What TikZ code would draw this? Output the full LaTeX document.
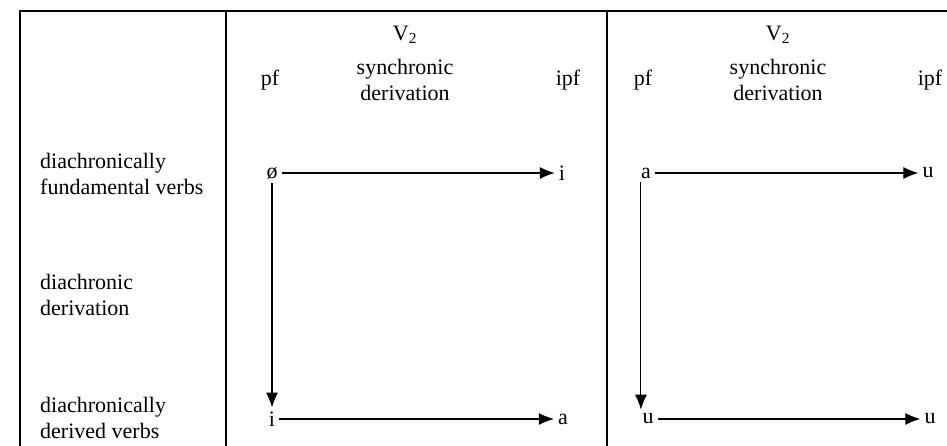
\documentclass[tikz,border=0pt]{standalone}
\usepackage{fontspec}
\setmainfont{Liberation Serif}
\usetikzlibrary{arrows.meta}
\begin{document}
\begin{tikzpicture}[x=1pt,y=1pt,
  txt/.style={font=\fontsize{22}{26}\selectfont, inner sep=0pt},
  rowlbl/.style={txt, anchor=west, align=left},
  hdr/.style={txt, align=center},
  sym/.style={txt, inner sep=4pt},
  rule/.style={line width=1.1pt},
  conn/.style={line width=1.1pt, -{Latex[length=15pt,width=12pt]}}]
\useasboundingbox (0,0) rectangle (947,446);
% table rules
\draw[rule] (20,0) -- (20,435) -- (947,435);
\draw[rule] (226,0) -- (226,435);
\draw[rule] (607,0) -- (607,435);
% row labels
\node[rowlbl] (r1) at (40,272) {diachronically\\fundamental verbs};
\node[rowlbl] (r2) at (40,151) {diachronic\\derivation};
\node[rowlbl] (r3) at (40,28) {diachronically\\derived verbs};
% headers, left block
\node[hdr] (v2a) at (405,411) {V\textsubscript{2}};
\node[hdr] (pfa) at (270,366) {pf};
\node[hdr] (syna) at (405,366) {synchronic\\derivation};
\node[hdr] (ipfa) at (568,366) {ipf};
% headers, right block
\node[hdr] (v2b) at (778,411) {V\textsubscript{2}};
\node[hdr] (pfb) at (643,366) {pf};
\node[hdr] (synb) at (778,366) {synchronic\\derivation};
\node[hdr] (ipfb) at (930,366) {ipf};
% left block symbols
\node[sym] (a1) at (272,273) {ø};
\node[sym] (a2) at (562,273) {i};
\node[sym] (a3) at (272,27) {i};
\node[sym] (a4) at (563,27) {a};
% right block symbols
\node[sym] (b1) at (646,273) {a};
\node[sym] (b2) at (928,273) {u};
\node[sym] (b3) at (648,27) {u};
\node[sym] (b4) at (930,27) {u};
% connectors
\draw[conn] (a1) -- (a2);
\draw[conn] (a1) -- (a3);
\draw[conn] (a3) -- (a4);
\draw[conn] (b1) -- (b2);
\draw[conn] (b1.south west) ++(4,0) coordinate (b1s) -- (b1s |- b3.north);
\draw[conn] (b3) -- (b4);
\end{tikzpicture}
\end{document}
